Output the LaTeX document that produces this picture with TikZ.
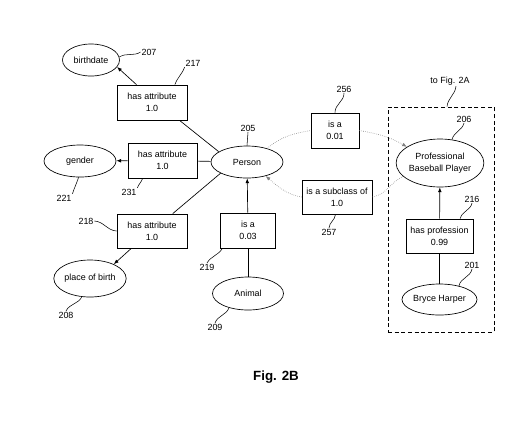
\documentclass[tikz,border=0pt]{standalone}
\usepackage{fontspec}
\setmainfont{Liberation Sans}
\usetikzlibrary{shapes.geometric,arrows.meta}

\newcommand{\lbl}{\fontsize{6.7}{8.8}\selectfont}
\tikzset{
  ent/.style={draw,ellipse,inner sep=0pt,line width=0.5pt,align=center,font=\lbl},
  rel/.style={draw,rectangle,inner sep=0pt,line width=0.6pt,align=center,font=\lbl},
  num/.style={inner sep=0.5pt,font=\lbl},
  lead/.style={line width=0.4pt},
  soft/.style={gray,densely dotted,line width=0.45pt},
}

\begin{document}
\begin{tikzpicture}[x=0.75pt,y=-0.75pt,>={Latex[length=3.6pt,width=2.8pt]}]
\useasboundingbox (0,0) rectangle (522,426);
%\draw[step=50,gray,very thin] (0,0) grid (522,426); %background grid

\node[ent,minimum width=42.75pt,minimum height=24pt] (birth) at (91,60) {birthdate};
\node[ent,minimum width=54pt,minimum height=24pt] (gender) at (80,161) {gender};
\node[ent,minimum width=52.5pt,minimum height=27.75pt] (pob) at (90,278.5) {place of birth};
\node[ent,minimum width=54pt,minimum height=24pt] (person) at (247,162) {Person};
\node[ent,minimum width=53.25pt,minimum height=24.75pt] (animal) at (248,293.5) {Animal};
\node[ent,minimum width=63pt,minimum height=36pt] (pbp) at (440,163) {Professional\\Baseball Player};
\node[ent,minimum width=56.25pt,minimum height=23.25pt] (bryce) at (439.5,299.5) {Bryce Harper};

\node[rel,minimum width=52.5pt,minimum height=26.25pt] (attrA) at (152,102.5) {has attribute\\1.0};
\node[rel,minimum width=51.75pt,minimum height=26.25pt] (attrB) at (162.5,160.5) {has attribute\\1.0};
\node[rel,minimum width=52.5pt,minimum height=25.5pt] (attrC) at (152,231) {has attribute\\1.0};
\node[rel,minimum width=41.25pt,minimum height=26.25pt] (isaA) at (248,230.5) {is a\\0.03};
\node[rel,minimum width=36pt,minimum height=26.25pt] (isaB) at (335,130.5) {is a\\0.01};
\node[rel,minimum width=52.5pt,minimum height=25.5pt] (subB) at (337,197) {is a subclass of\\1.0};
\node[rel,minimum width=50.25pt,minimum height=25.5pt] (prof) at (439.5,236) {has profession\\0.99};

\node[draw,dashed,dash pattern=on 3pt off 2pt,line width=0.5pt,minimum width=79.5pt,minimum height=168.75pt] (frame) at (441,219.5) {};

% reference numerals
\node[num] (l207) at (149,52) {207};
\node[num] (l217) at (193,63) {217};
\node[num] (l205) at (248,128) {205};
\node[num] (l231) at (129,192) {231};
\node[num] (l221) at (64,198) {221};
\node[num] (l218) at (86,221) {218};
\node[num] (l208) at (66,315) {208};
\node[num] (l219) at (207,267) {219};
\node[num] (l209) at (215,327) {209};
\node[num] (l256) at (344,89) {256};
\node[num] (l257) at (329,232) {257};
\node[num] (tofig) at (450,81) {to Fig. 2A};
\node[num] (l206) at (464,119) {206};
\node[num] (l216) at (472,199) {216};
\node[num] (l201) at (472,265) {201};

\draw[lead] (birth.6) to[out=33,in=213] (l207.west);
\draw[lead] (attrA.38) to[out=71,in=251] (l217.south west);
\draw[lead] (person.north) -- (l205.south);
\draw[lead] (attrB.222) to[out=252,in=72] (l231.north east);
\draw[lead] (gender.265) to[out=252,in=72] (l221.north east);
\draw[lead] (attrC.west) to[out=177,in=357] (l218.east);
\draw[lead] (pob.246) to[out=243,in=63] (l208.north);
\draw[lead] (isaA.215) to[out=238,in=58] (l219.north);
\draw[lead] (animal.217) to[out=249,in=69] (l209.north);
\draw[lead] (isaB.north) to[out=91,in=271] (l256.south);
\draw[lead] (subB.265) to[out=266,in=86] (l257.north);
\draw[lead] ([xshift=4.5pt]frame.north) to[out=85,in=265] ([xshift=4.5pt]tofig.south);
\draw[lead] (pbp.63) to[out=75,in=255] (l206.south);
\draw[lead] (prof.40) to[out=78,in=258] (l216.south);
\draw[lead] (bryce.35) to[out=78,in=258] (l201.south);

% relations
\draw[line width=0.5pt] (person.160) -- (attrA.-33);
\draw[->,line width=0.5pt] (attrA.131) -- (birth.-15);
\draw[line width=0.5pt] (person) -- (attrB);
\draw[->,line width=0.5pt] (attrB) -- (gender);
\draw[line width=0.5pt] (person.203) -- (attrC.40);
\draw[->,line width=0.5pt] (attrC.220) -- (pob.31);
\draw[line width=0.5pt] (animal) -- (isaA);
\draw[->,line width=0.5pt] (isaA) -- (person);
\draw[line width=0.5pt] (bryce) -- (prof);
\draw[->,line width=0.5pt] (prof) -- (pbp);

\draw[soft] (person.34) to[out=40,in=190] (isaB.west);
\draw[soft,->] (isaB.east) to[out=-10,in=150] (pbp.154);
\draw[soft] (pbp.200) to[out=205,in=10] (subB.east);
\draw[soft,->] (subB.west) to[out=170,in=-40] (person.-37);

\node[font=\bfseries\fontsize{10}{12}\selectfont] (cap) at (276,377) {Fig. 2B};
\end{tikzpicture}
\end{document}
